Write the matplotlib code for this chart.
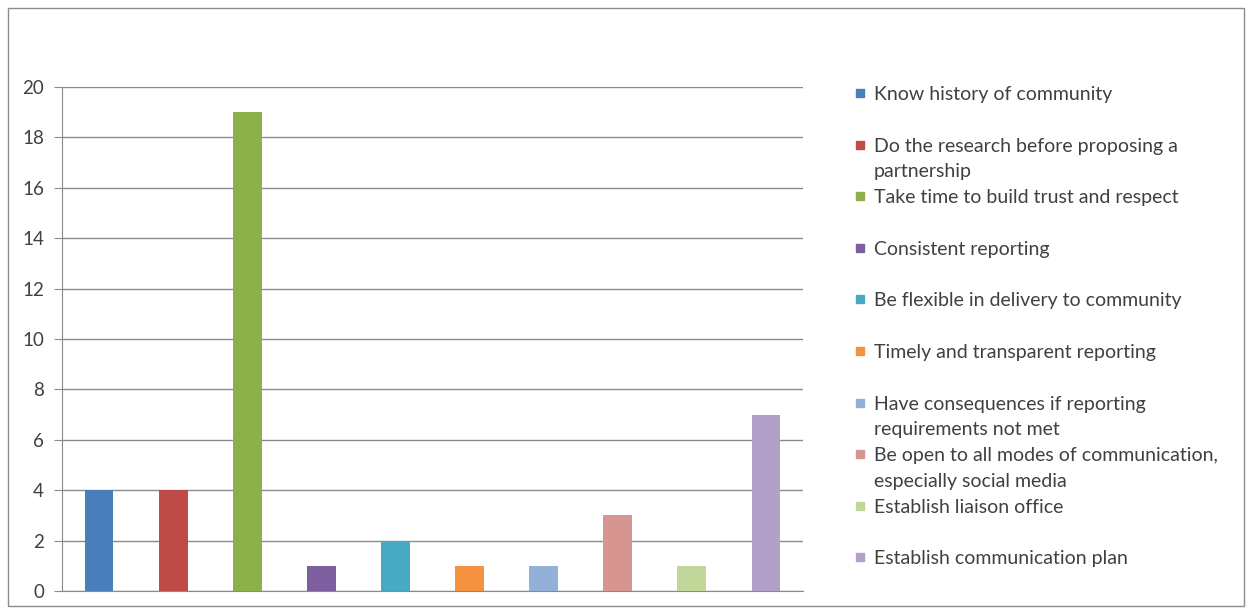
import matplotlib.pyplot as plt
from matplotlib.patches import Rectangle

# Survey responses: number of mentions per recommendation
labels = [
    "Know history of community",
    "Do the research before proposing a\npartnership",
    "Take time to build trust and respect",
    "Consistent reporting",
    "Be flexible in delivery to community",
    "Timely and transparent reporting",
    "Have consequences if reporting\nrequirements not met",
    "Be open to all modes of communication,\nespecially social media",
    "Establish liaison office",
    "Establish communication plan",
]
counts = [4, 4, 19, 1, 2, 1, 1, 3, 1, 7]
colors = ["#4A7EBB", "#BE4B48", "#8DB04A", "#7D5FA0", "#46AAC5",
          "#F59240", "#93B1D6", "#D79592", "#C1D699", "#B1A0C8"]
yticks = [0, 2, 4, 6, 8, 10, 12, 14, 16, 18, 20]

plt.rcParams['font.family'] = ['Lato', 'DejaVu Sans']

W, H = 1248, 612
fig = plt.figure(figsize=(W / 100, H / 100), dpi=100)

# outer chart border
fig.patches.append(Rectangle((8 / W, 6 / H), (W - 12) / W, (H - 14) / H,
                             transform=fig.transFigure, fill=False,
                             edgecolor="#8c8c8c", linewidth=1))

ax = fig.add_axes([62 / W, 1 - 591 / H, (803 - 62) / W, (591 - 87) / H])
x = range(len(counts))
ax.bar(x, counts, width=0.39, color=colors, zorder=3)
ax.set_xlim(-0.5, len(counts) - 0.5)
ax.set_ylim(0, 20)
ax.set_yticks(yticks)
ax.set_xticks([])
ax.yaxis.grid(True, color="#8a8a8a", linewidth=1, zorder=0)
for side in ["top", "right"]:
    ax.spines[side].set_visible(False)
for side in ["left", "bottom"]:
    ax.spines[side].set_color("#8a8a8a")
ax.tick_params(axis="y", length=6, color="#8a8a8a", labelsize=13.5,
               labelcolor="#404040", pad=7)

# legend drawn as colored squares with text, one slot per entry
slot = 51.6
for i, (lab, c) in enumerate(zip(labels, colors)):
    yc = 93 + i * slot
    fig.patches.append(Rectangle((856 / W, 1 - (yc + 4) / H), 8 / W, 8 / H,
                                 transform=fig.transFigure, color=c))
    fig.text(874 / W, 1 - (yc - 7) / H, lab, fontsize=14, color="#404040",
             va="top", ha="left", linespacing=1.62)

fig.savefig("out.png", dpi=100)
